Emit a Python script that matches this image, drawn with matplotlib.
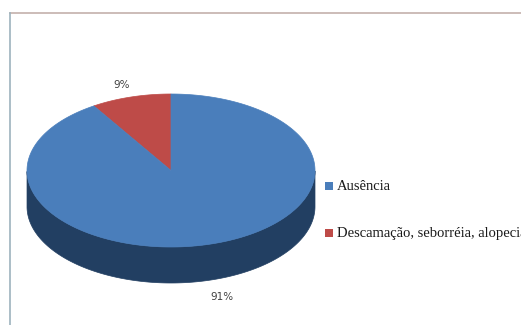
import numpy as np
import matplotlib
matplotlib.use("Agg")
import matplotlib.pyplot as plt
from matplotlib.patches import Polygon, Rectangle

categories = ["Ausência", "Descamação, seborréia, alopecia"]
values = [91, 9]
pct_labels = ["91%", "9%"]

top_colors = ["#4A7EBB", "#BE4B48"]
side_colors = ["#223F62", "#7A2D2B"]

W, H = 521, 325
fig = plt.figure(figsize=(W / 100, H / 100), dpi=100)
ax = fig.add_axes([0, 0, 1, 1])
ax.set_xlim(0, W)
ax.set_ylim(H, 0)
ax.axis("off")

# chart border
ax.plot([10, W], [13, 13], color="#C4B0AC", lw=1.2, zorder=1)
ax.plot([10, 10], [13, H], color="#9DB3BD", lw=1.2, zorder=1)

cx, cy, rx, ry, depth = 171, 170.5, 144, 76.5, 36

def pt(t):
    return cx + rx * np.cos(t), cy - ry * np.sin(t)

# slices: red first counterclockwise from 12 o'clock, then blue
order = [1, 0]
total = float(sum(values))
start = np.pi / 2
slices = []
for i in order:
    span = 2 * np.pi * values[i] / total
    slices.append((i, start, start + span))
    start += span

# sides (front visible part where sin t < 0)
for i, a0, a1 in slices:
    ts = np.linspace(a0, a1, 400)
    vis = np.sin(ts) < 0
    if not vis.any():
        continue
    tv = ts[vis]
    xs, ys = pt(tv)
    poly = np.column_stack([np.concatenate([xs, xs[::-1]]),
                            np.concatenate([ys, ys[::-1] + depth])])
    ax.add_patch(Polygon(poly, closed=True, facecolor=side_colors[i],
                         edgecolor=side_colors[i], lw=0.5, zorder=2))

# tops
for i, a0, a1 in slices:
    ts = np.linspace(a0, a1, 400)
    xs, ys = pt(ts)
    poly = np.column_stack([np.concatenate([[cx], xs]), np.concatenate([[cy], ys])])
    ax.add_patch(Polygon(poly, closed=True, facecolor=top_colors[i],
                         edgecolor=top_colors[i], lw=0.5, zorder=3))

# percentage labels
ax.text(122, 85, pct_labels[1], fontsize=7.5, family="DejaVu Sans",
        color="#404040", ha="center", va="center")
ax.text(222, 297, pct_labels[0], fontsize=7.5, family="DejaVu Sans",
        color="#404040", ha="center", va="center")

# legend
for yy, i in [(186, 0), (233, 1)]:
    ax.add_patch(Rectangle((325, yy - 4), 8, 8, facecolor=top_colors[i],
                           edgecolor="none", zorder=4))
    ax.text(337, yy, categories[i], fontsize=10.5, family="Liberation Serif",
            color="#1A1A1A", ha="left", va="center")

fig.savefig("out.png", dpi=100)
